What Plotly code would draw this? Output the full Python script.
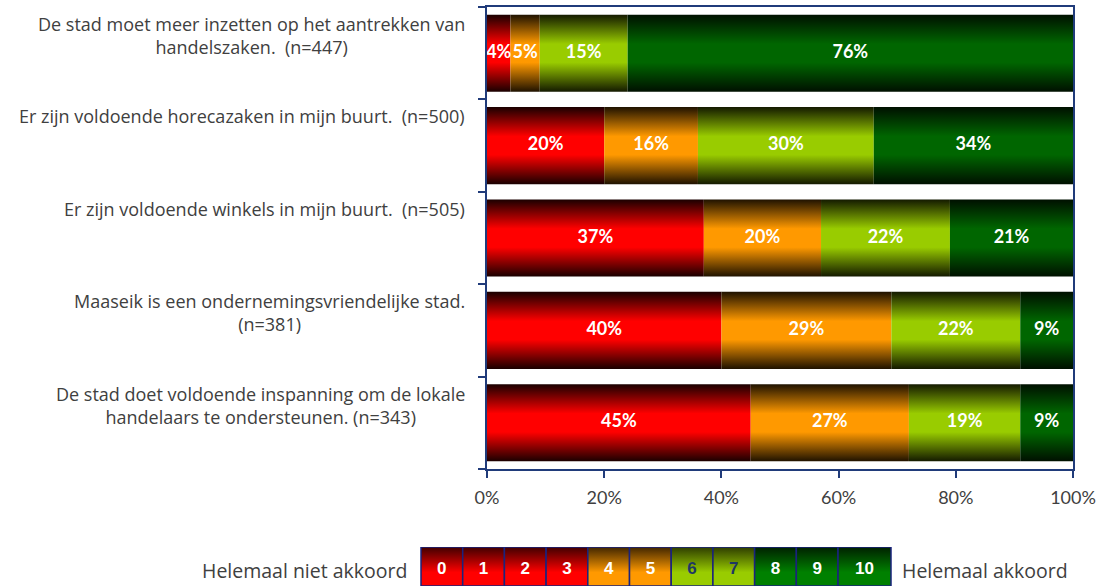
import plotly.graph_objects as go

# ---------------- data ----------------
statements = [
    "De stad moet meer inzetten op het aantrekken van<br>handelszaken.  (n=447)",
    "Er zijn voldoende horecazaken in mijn buurt.  (n=500)",
    "Er zijn voldoende winkels in mijn buurt.  (n=505)",
    "Maaseik is een ondernemingsvriendelijke stad.<br>(n=381)",
    "De stad doet voldoende inspanning om de lokale<br>handelaars te ondersteunen. (n=343)",
]
score_0_3 = [4, 20, 37, 40, 45]
score_4_5 = [5, 16, 20, 29, 27]
score_6_7 = [15, 30, 22, 22, 19]
score_8_10 = [76, 34, 21, 9, 9]
series = [score_0_3, score_4_5, score_6_7, score_8_10]
series_colors = ["#FF0000", "#FF9900", "#99CC00", "#006600"]
series_dark = ["#1a0000", "#1f1200", "#141a00", "#001000"]

x_ticks = [0, 20, 40, 60, 80, 100]
x_ticktext = ["0%", "20%", "40%", "60%", "80%", "100%"]

legend_labels = ["0", "1", "2", "3", "4", "5", "6", "7", "8", "9", "10"]
legend_group = [0, 0, 0, 0, 1, 1, 2, 2, 3, 3, 3]
legend_text_colors = ["white"] * 6 + ["#1F3864"] * 2 + ["white"] * 3
legend_box_colors = ["#FF0000", "#FF9900", "#99CC00", "#008000"]
legend_box_dark = ["#400000", "#402600", "#2e3d00", "#002000"]

# ---------------- layout constants ----------------
W, H = 1101, 586
NAVY = "#203B7A"
GRAY = "#404040"
FONT = "Lato"
LABEL_FONT = "Open Sans"
half = 0.417

fig = go.Figure()

# main stacked bars (gradient filled)
for si, (vals, col, dk) in enumerate(zip(series, series_colors, series_dark)):
    for ri, v in enumerate(vals):
        base = sum(series[k][ri] for k in range(si))
        x0, x1 = base, base + v
        y0, y1 = ri - half, ri + half
        fig.add_trace(go.Scatter(
            x=[x0, x1, x1, x0, x0], y=[y0, y0, y1, y1, y0],
            mode="lines", fill="toself",
            line=dict(width=0, color="rgba(0,0,0,0)"),
            fillgradient=dict(type="vertical",
                              colorscale=[[0, dk], [0.38, col], [0.62, col], [1, dk]]),
            hoverinfo="skip", showlegend=False,
        ))

# value labels
for si, vals in enumerate(series):
    xs, ys, ts = [], [], []
    for ri, v in enumerate(vals):
        base = sum(series[k][ri] for k in range(si))
        xs.append(base + v / 2)
        ys.append(ri)
        ts.append(f"{v}%")
    fig.add_trace(go.Scatter(
        x=xs, y=ys, text=ts, mode="text",
        textfont=dict(family=FONT, size=18, color="white", weight="bold"),
        hoverinfo="skip", showlegend=False,
    ))

# legend color key (second axes in pixel units)
left_edge, right_edge = 421, 891
n = len(legend_labels)
unit = (right_edge - left_edge) / (n - 1 + 1.27)
edges = [left_edge + unit * k for k in range(n)] + [right_edge]
for k, lab in enumerate(legend_labels):
    g = legend_group[k]
    x0, x1 = edges[k], edges[k + 1]
    fig.add_trace(go.Scatter(
        x=[x0, x1, x1, x0, x0], y=[0, 0, 1, 1, 0],
        xaxis="x2", yaxis="y2",
        mode="lines", fill="toself",
        line=dict(width=1.5, color="#1a237e"),
        fillgradient=dict(type="vertical", start=0, stop=1,
                          colorscale=[[0, legend_box_colors[g]], [0.35, legend_box_colors[g]],
                                      [1, legend_box_dark[g]]]),
        hoverinfo="skip", showlegend=False,
    ))
fig.add_trace(go.Scatter(
    x=[(edges[k] + edges[k + 1]) / 2 for k in range(n)], y=[0.42] * n,
    xaxis="x2", yaxis="y2",
    text=legend_labels, mode="text",
    textfont=dict(family="Liberation Sans", size=17, color=legend_text_colors, weight="bold"),
    hoverinfo="skip", showlegend=False,
))

annotations = []
for ri, s in enumerate(statements):
    annotations.append(dict(
        text=s, xref="paper", x=467 / W, xanchor="right",
        yref="y", y=ri - 0.5, yanchor="top", yshift=-3,
        showarrow=False, align="center",
        font=dict(family=LABEL_FONT, size=18, color=GRAY),
    ))
annotations.append(dict(text="Helemaal niet akkoord", xref="paper", x=409 / W, xanchor="right",
                        yref="paper", y=(586 - 570) / 579, yanchor="middle", showarrow=False,
                        font=dict(family=LABEL_FONT, size=19.5, color=GRAY)))
annotations.append(dict(text="Helemaal akkoord", xref="paper", x=900 / W, xanchor="left",
                        yref="paper", y=(586 - 570) / 579, yanchor="middle", showarrow=False,
                        font=dict(family=LABEL_FONT, size=19.5, color=GRAY)))

fig.update_layout(
    width=W, height=H,
    margin=dict(l=0, r=0, t=7, b=0, autoexpand=False),
    paper_bgcolor="white", plot_bgcolor="rgba(0,0,0,0)",
    xaxis=dict(domain=[487 / W, 1073 / W], range=[0, 100], tickvals=x_ticks, ticktext=x_ticktext,
               ticks="outside", ticklen=7, tickcolor=NAVY, tickwidth=1.5,
               showline=True, linecolor=NAVY, linewidth=1.5, mirror=True,
               showgrid=False, zeroline=False, ticklabelstandoff=5, automargin=False,
               tickfont=dict(family=FONT, size=18, color=GRAY), anchor="y"),
    yaxis=dict(domain=[117 / 579, 1], range=[4.5, -0.5],
               tickvals=[-0.5, 0.5, 1.5, 2.5, 3.5, 4.5], ticks="outside", ticklen=7,
               tickcolor=NAVY, tickwidth=1.5, showticklabels=False, automargin=False,
               showline=True, linecolor=NAVY, linewidth=1.5, mirror=True,
               showgrid=False, zeroline=False, anchor="x"),
    xaxis2=dict(domain=[0, 1], range=[0, W], visible=False, anchor="y2", fixedrange=True,
                automargin=False),
    yaxis2=dict(domain=[0, 39 / 579], range=[0, 1], visible=False, anchor="x2", fixedrange=True,
                automargin=False),
    annotations=annotations,
    showlegend=False,
)

fig.write_html(
    "out.html",
    config={"displayModeBar": False},
    post_script="document.body.style.margin='0';document.body.style.overflow='hidden';",
)
